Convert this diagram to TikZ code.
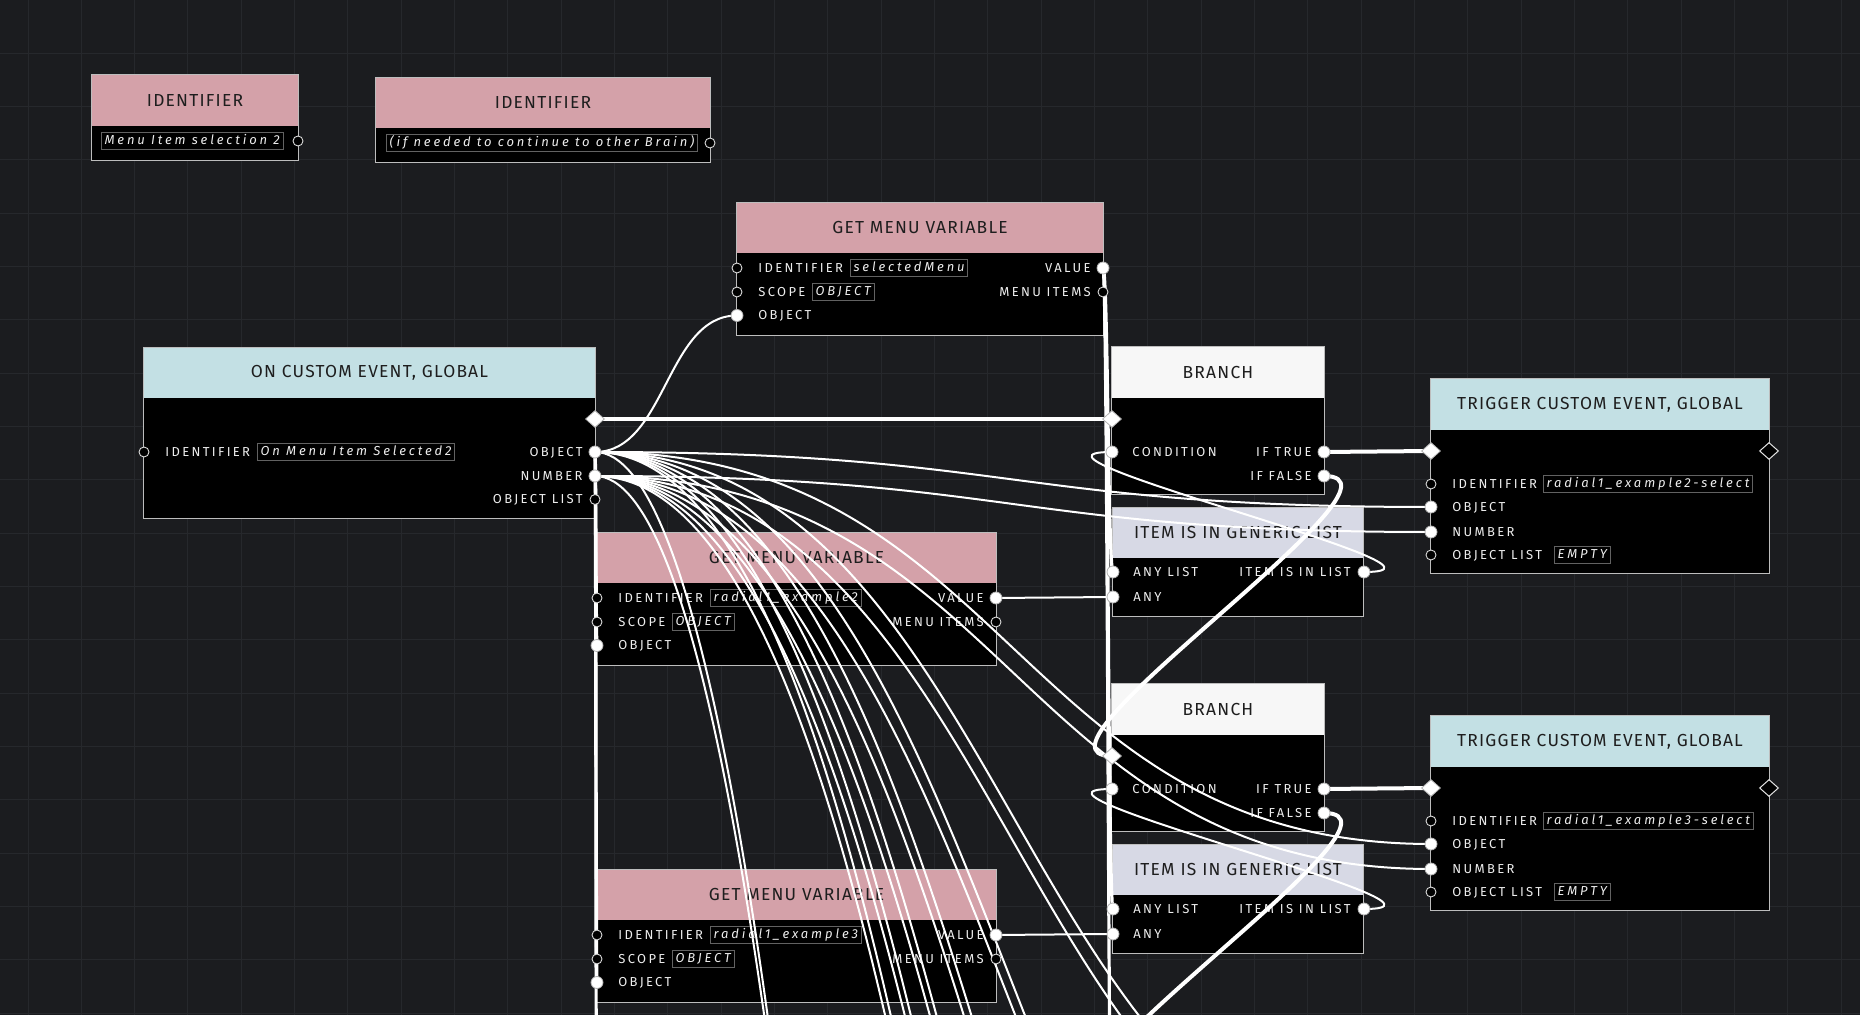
\documentclass[tikz,border=0pt]{standalone}
\usepackage{fontspec}
\usetikzlibrary{shapes.geometric,fit,calc}
\newfontfamily\titf{Fira Sans}[LetterSpace=7]
\newfontfamily\rowf{Fira Sans}[LetterSpace=18]
\newfontfamily\fldf{Fira Sans}[LetterSpace=22]
\definecolor{bg}{HTML}{1B1C1F}
\definecolor{gridc}{HTML}{26282C}
\definecolor{pinkh}{HTML}{D4A1A9}
\definecolor{blueh}{HTML}{C3E0E4}
\definecolor{whiteh}{HTML}{F7F7F7}
\definecolor{lavh}{HTML}{D7D9E5}
\definecolor{titlec}{HTML}{1E1E1E}
\definecolor{rowc}{HTML}{EDEDED}
\definecolor{fieldc}{HTML}{626262}
\definecolor{borderc}{HTML}{BDBDBD}
\pgfdeclarelayer{gridlayer}
\pgfdeclarelayer{bodylayer}
\pgfdeclarelayer{wirelayer}
\pgfsetlayers{gridlayer,bodylayer,wirelayer,main}
\tikzset{
 body/.style={inner sep=0pt, fill=black},
 border/.style={draw=borderc, line width=0.5pt},
 ttl/.style={inner sep=0pt, text=titlec, font=\titf\fontsize{8.7}{10}\selectfont},
 lab/.style={inner sep=0pt, text=rowc, font=\rowf\fontsize{6.5}{7.5}\selectfont},
 fld/.style={draw=fieldc, line width=0.4pt, inner xsep=1.6pt, inner ysep=1pt, text height=5pt, text depth=1.4pt, text=rowc, font=\fldf\itshape\fontsize{6.5}{7.5}\selectfont, anchor=west},
 pfull/.style={circle, fill=white, draw=white!70!black, line width=0.4pt, minimum size=6pt, inner sep=0pt},
 pempty/.style={circle, fill=black, draw=white!85!black, line width=0.45pt, minimum size=5pt, inner sep=0pt},
 xfull/.style={diamond, fill=white, draw=white!70!black, line width=0.4pt, minimum width=9.5pt, minimum height=8.5pt, inner sep=0pt},
 xempty/.style={diamond, fill=black, draw=white!90!black, line width=0.5pt, minimum width=9.5pt, minimum height=8.5pt, inner sep=0pt},
 dwire/.style={draw=white, line width=1pt},
 vwire/.style={draw=white, line width=1.6pt},
 ewire/.style={draw=white, line width=2pt},
}
\newcommand\wire[3][dwire]{\draw[#1] let \p1=(#2), \p2=(#3), \n1={max(abs(\x2-\x1)/2,0.5)} in (\p1) .. controls (\x1+\n1,\y1) and (\x2-\n1,\y2) .. (\p2);}
% get menu variable: name, x1, ytop, x2, identifier value
\newcommand\gmv[5]{%
 \begin{pgfonlayer}{bodylayer}
 \node[body, fit={(#2,#3)(#4,{#3+132})}] (#1) {};
 \node[body, fill=pinkh, fit={(#2,#3)(#4,{#3+50})}] (#1-h) {};
 \draw[border] (#1.south west) rectangle (#1.north east);
 \node[ttl] (#1-t) at (#1-h.center) {GET MENU VARIABLE};
 \node[lab, anchor=mid west] (#1-l1) at ({#2+21},{#3+65}) {IDENTIFIER};
 \node[fld] (#1-f1) at ({#2+113},{#3+65}) {#5};
 \node[lab, anchor=mid west] (#1-l2) at ({#2+21},{#3+89}) {SCOPE};
 \node[fld] (#1-f2) at ({#2+75},{#3+89}) {OBJECT};
 \node[lab, anchor=mid west] (#1-l3) at ({#2+21},{#3+112.5}) {OBJECT};
 \node[lab, anchor=mid east] (#1-l4) at ({#4-12},{#3+65}) {VALUE};
 \node[lab, anchor=mid east] (#1-l5) at ({#4-12},{#3+89}) {MENU ITEMS};
 \end{pgfonlayer}
 \node[pempty] (#1-id) at (#2,{#3+65}) {};
 \node[pempty] (#1-sc) at (#2,{#3+89}) {};
 \node[pfull] (#1-obj) at (#2,{#3+112.5}) {};
 \node[pfull] (#1-val) at (#4,{#3+65}) {};
 \node[pempty] (#1-mi) at (#4,{#3+89}) {};
}
% branch: name, ytop
\newcommand\branchn[2]{%
 \begin{pgfonlayer}{bodylayer}
 \node[body, fit={(1112,#2)(1324,{#2+147})}] (#1) {};
 \node[body, fill=whiteh, fit={(1112,#2)(1324,{#2+51})}] (#1-h) {};
 \draw[border] (#1.south west) rectangle (#1.north east);
 \node[ttl] (#1-t) at (#1-h.center) {BRANCH};
 \node[lab, anchor=mid west] (#1-l1) at (1132,{#2+105}) {CONDITION};
 \node[lab, anchor=mid east] (#1-l2) at (1312,{#2+105}) {IF TRUE};
 \node[lab, anchor=mid east] (#1-l3) at (1312,{#2+129}) {IF FALSE};
 \end{pgfonlayer}
 \node[xfull] (#1-xin) at (1112,{#2+72}) {};
 \node[pfull] (#1-cond) at (1112,{#2+105}) {};
 \node[pfull] (#1-true) at (1324,{#2+105}) {};
 \node[pfull] (#1-false) at (1324,{#2+129}) {};
}
% item is in generic list: name, ytop
\newcommand\itemn[2]{%
 \begin{pgfonlayer}{bodylayer}
 \node[body, fit={(1113,#2)(1363,{#2+108})}] (#1) {};
 \node[body, fill=lavh, fit={(1113,#2)(1363,{#2+50})}] (#1-h) {};
 \draw[border] (#1.south west) rectangle (#1.north east);
 \node[ttl] (#1-t) at (#1-h.center) {ITEM IS IN GENERIC LIST};
 \node[lab, anchor=mid west] (#1-l1) at (1133,{#2+64}) {ANY LIST};
 \node[lab, anchor=mid west] (#1-l2) at (1133,{#2+89}) {ANY};
 \node[lab, anchor=mid east] (#1-l3) at (1351,{#2+64}) {ITEM IS IN LIST};
 \end{pgfonlayer}
 \node[pfull] (#1-al) at (1113,{#2+64}) {};
 \node[pfull] (#1-any) at (1113,{#2+89}) {};
 \node[pfull] (#1-out) at (1364,{#2+64}) {};
}
% trigger custom event: name, ytop, identifier value
\newcommand\trig[3]{%
 \begin{pgfonlayer}{bodylayer}
 \node[body, fit={(1431,#2)(1769,{#2+194})}] (#1) {};
 \node[body, fill=blueh, fit={(1431,#2)(1769,{#2+51})}] (#1-h) {};
 \draw[border] (#1.south west) rectangle (#1.north east);
 \node[ttl] (#1-t) at (#1-h.center) {TRIGGER CUSTOM EVENT, GLOBAL};
 \node[lab, anchor=mid west] (#1-l1) at (1452,{#2+105}) {IDENTIFIER};
 \node[fld] (#1-f1) at (1543,{#2+105}) {#3};
 \node[lab, anchor=mid west] (#1-l2) at (1452,{#2+128}) {OBJECT};
 \node[lab, anchor=mid west] (#1-l3) at (1452,{#2+153}) {NUMBER};
 \node[lab, anchor=mid west] (#1-l4) at (1452,{#2+176}) {OBJECT LIST};
 \node[fld] (#1-f2) at (1554,{#2+176}) {EMPTY};
 \end{pgfonlayer}
 \node[xfull] (#1-xin) at (1431,{#2+72}) {};
 \node[xempty] (#1-xout) at (1769,{#2+72}) {};
 \node[pempty] (#1-id) at (1431,{#2+105}) {};
 \node[pfull] (#1-obj) at (1431,{#2+128}) {};
 \node[pfull] (#1-num) at (1431,{#2+153}) {};
 \node[pempty] (#1-ol) at (1431,{#2+176}) {};
}
\begin{document}
\begin{tikzpicture}[x=0.5pt,y=-0.5pt]
\useasboundingbox (0,0) rectangle (1860,1015);
\begin{pgfonlayer}{gridlayer}
 \fill[bg] (0,0) rectangle (1860,1015);
 \foreach \i in {0,...,34} \draw[gridc, line width=0.5pt] ({28+53.33*\i},0) -- ({28+53.33*\i},1015);
 \foreach \j in {0,...,19} \draw[gridc, line width=0.5pt] (0,{53.33*\j}) -- (1860,{53.33*\j});
\end{pgfonlayer}

% identifier 1
\begin{pgfonlayer}{bodylayer}
 \node[body, fit={(92,75)(298,160)}] (id1) {};
 \node[body, fill=pinkh, fit={(92,75)(298,126)}] (id1-h) {};
 \draw[border] (id1.south west) rectangle (id1.north east);
 \node[ttl] (id1-t) at (id1-h.center) {IDENTIFIER};
 \node[fld] (id1-f) at (101,141) {Menu Item selection 2};
% identifier 2
 \node[body, fit={(376,78)(710,162)}] (id2) {};
 \node[body, fill=pinkh, fit={(376,78)(710,128)}] (id2-h) {};
 \draw[border] (id2.south west) rectangle (id2.north east);
 \node[ttl] (id2-t) at (id2-h.center) {IDENTIFIER};
 \node[fld] (id2-f) at (386,143) {(if needed to continue to other Brain)};
% on custom event
 \node[body, fit={(144,348)(595,518)}] (ocev) {};
 \node[body, fill=blueh, fit={(144,348)(595,398)}] (ocev-h) {};
 \draw[border] (ocev.south west) rectangle (ocev.north east);
 \node[ttl] (ocev-t) at (ocev-h.center) {ON CUSTOM EVENT, GLOBAL};
 \node[lab, anchor=mid west] (ocev-l1) at (165,452) {IDENTIFIER};
 \node[fld] (ocev-f1) at (257,452) {On Menu Item Selected2};
 \node[lab, anchor=mid east] (ocev-l2) at (583,452) {OBJECT};
 \node[lab, anchor=mid east] (ocev-l3) at (583,476) {NUMBER};
 \node[lab, anchor=mid east] (ocev-l4) at (583,499.5) {OBJECT LIST};
\end{pgfonlayer}
\node[pempty] (id1-o) at (298,141) {};
\node[pempty] (id2-o) at (710,143) {};
\node[xfull] (ocev-xout) at (595,419) {};
\node[pempty] (ocev-id) at (144,452) {};
\node[pfull] (ocev-obj) at (595,452) {};
\node[pfull] (ocev-num) at (595,476) {};
\node[pempty] (ocev-ol) at (595,499.5) {};

\gmv{gmva}{737}{203}{1103}{selectedMenu}
\gmv{gmvb}{597}{533}{996}{radial1\_example2}
\gmv{gmvc}{597}{870}{996}{radial1\_example3}
\branchn{bra}{347}
\branchn{brb}{684}
\itemn{ita}{508}
\itemn{itb}{845}
\trig{tra}{379}{radial1\_example2-select}
\trig{trb}{716}{radial1\_example3-select}

% off-page continuation points
\coordinate (gmvd-obj) at (597,1319.5);
\coordinate (itc-al) at (1113,1245);
\coordinate (brc-xin) at (1112,1093);
\coordinate (trc-obj) at (1431,1181);
\coordinate (trc-num) at (1431,1206);
\coordinate (trd-obj) at (1431,1518);
\coordinate (trd-num) at (1431,1543);
\coordinate (tre-obj) at (1431,1855);
\coordinate (tre-num) at (1431,1880);
\coordinate (trf-obj) at (1431,2192);
\coordinate (trf-num) at (1431,2217);
\coordinate (trg-obj) at (1431,2529);
\coordinate (trg-num) at (1431,2554);
\coordinate (trh-obj) at (1431,2866);
\coordinate (trh-num) at (1431,2891);
\coordinate (trz-obj) at (1431,8600);
\coordinate (trz-num) at (1431,8625);

\begin{pgfonlayer}{wirelayer}
 \wire[ewire]{ocev-xout.center}{bra-xin.center}
 \wire[ewire]{bra-true.center}{tra-xin.center}
 \wire[ewire]{bra-false.center}{brb-xin.center}
 \wire[ewire]{brb-true.center}{trb-xin.center}
 \wire[ewire]{brb-false.center}{brc-xin}
 \wire{ocev-obj.center}{gmva-obj.center}
 \wire[vwire]{ocev-obj.center}{gmvb-obj.center}
 \wire[vwire]{ocev-obj.center}{gmvc-obj.center}
 \wire[vwire]{ocev-obj.center}{gmvd-obj}
 \wire[vwire]{gmva-val.center}{ita-al.center}
 \wire[vwire]{gmva-val.center}{itb-al.center}
 \wire[vwire]{gmva-val.center}{itc-al}
 \wire{gmvb-val.center}{ita-any.center}
 \wire{gmvc-val.center}{itb-any.center}
 \wire{ita-out.center}{bra-cond.center}
 \wire{itb-out.center}{brb-cond.center}
 \wire{ocev-obj.center}{tra-obj.center}
 \wire{ocev-num.center}{tra-num.center}
 \wire{ocev-obj.center}{trb-obj.center}
 \wire{ocev-num.center}{trb-num.center}
 \foreach \k in {c,d,e,f,g,h,z} {
  \wire{ocev-obj.center}{tr\k-obj}
  \wire{ocev-num.center}{tr\k-num}
 }
\end{pgfonlayer}
\end{tikzpicture}
\end{document}
